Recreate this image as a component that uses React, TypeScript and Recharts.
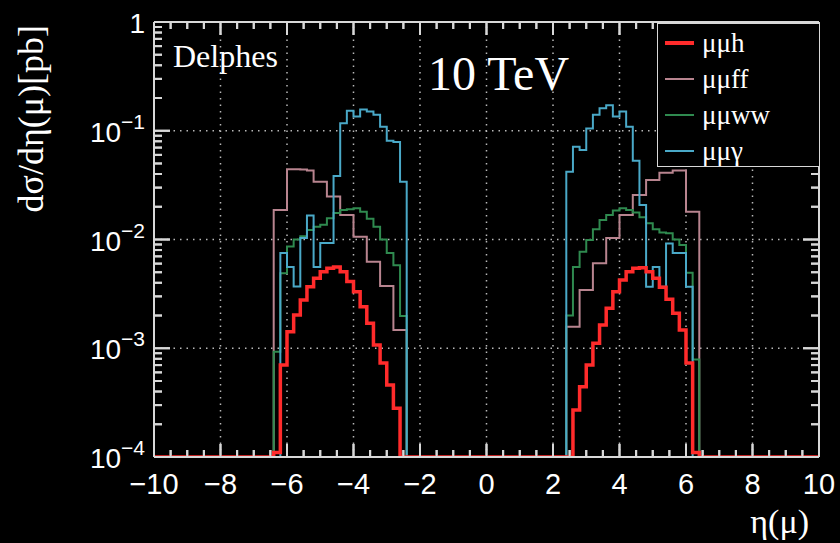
import { LineChart, Line, XAxis, YAxis, ReferenceLine, Legend } from 'recharts'

// histogram binning: 100 bins of 0.2 over eta in [-10, 10]
const etaMin = -10
const etaMax = 10
const binWidth = 0.2
const leftFirstEdge = -6.4
const rightFirstEdge = 2.4
const yFloor = 1e-4
const yCeil = 1

// dsigma/deta per bin, 20 bins on each side (eta -6.4..-2.4 and 2.4..6.4)
const mumuhLeft = [1.1e-4, 7.0e-4, 1.42e-3, 2.02e-3, 2.78e-3, 3.68e-3, 4.4e-3, 5.06e-3, 5.43e-3, 5.6e-3, 5.06e-3, 4.1e-3, 3.3e-3, 2.41e-3, 1.7e-3, 1.07e-3, 7.3e-4, 4.6e-4, 2.8e-4, 0]
const mumuhRight = [0, 2.7e-4, 4.43e-4, 7.0e-4, 1.11e-3, 1.64e-3, 2.33e-3, 3.3e-3, 4.24e-3, 5.06e-3, 5.43e-3, 5.5e-3, 5.06e-3, 4.4e-3, 3.63e-3, 2.82e-3, 2.1e-3, 1.47e-3, 7.3e-4, 1.1e-4]

const mumuffLeft = [0.0187, 0.0187, 0.0442, 0.0442, 0.044, 0.043, 0.034, 0.034, 0.0248, 0.0248, 0.0168, 0.0168, 0.0106, 0.0106, 6.25e-3, 6.25e-3, 3.73e-3, 3.73e-3, 1.47e-3, 1.47e-3]
const mumuffRight = [1.58e-3, 1.58e-3, 3.43e-3, 3.43e-3, 6.04e-3, 6.04e-3, 0.0103, 0.0103, 0.0168, 0.0168, 0.0257, 0.0257, 0.0352, 0.0352, 0.0411, 0.0411, 0.043, 0.043, 0.018, 0.018]

const mumuwwLeft = [9.3e-4, 4.9e-3, 8.6e-3, 0.01, 0.0107, 0.0122, 0.0131, 0.0137, 0.0157, 0.0175, 0.0187, 0.019, 0.0194, 0.018, 0.0155, 0.0131, 0.01, 7.5e-3, 5.8e-3, 1.98e-3]
const mumuwwRight = [2.0e-3, 5.6e-3, 7.7e-3, 9.9e-3, 0.0124, 0.0151, 0.0168, 0.0185, 0.0194, 0.0187, 0.0177, 0.016, 0.0141, 0.0124, 0.0116, 0.0114, 0.01, 8.9e-3, 4.95e-3, 7.9e-4]

const mumugammaLeft = [0, 7.5e-3, 5.6e-3, 3.7e-3, 0.0103, 0.0166, 5.6e-3, 9.3e-3, 9.3e-3, 0.0384, 0.117, 0.153, 0.135, 0.157, 0.15, 0.14, 0.109, 0.081, 0.079, 0.034]
const mumugammaRight = [0.042, 0.0714, 0.0665, 0.105, 0.14, 0.161, 0.172, 0.135, 0.15, 0.109, 0.053, 0.0208, 3.68e-3, 5.6e-3, 3.68e-3, 9.2e-3, 7.5e-3, 7.5e-3, 3.68e-3, 0]

const xMajorTicks = [-10, -8, -6, -4, -2, 0, 2, 4, 6, 8, 10]
const yMajorTicks = [1e-4, 1e-3, 1e-2, 1e-1, 1]

const series = [
  { key: 'mumuh', name: 'μμh', color: '#ff2b2b', width: 3.5, left: mumuhLeft, right: mumuhRight },
  { key: 'mumuff', name: 'μμff', color: '#b8848f', width: 2, left: mumuffLeft, right: mumuffRight },
  { key: 'mumuww', name: 'μμww', color: '#2f8a4f', width: 2, left: mumuwwLeft, right: mumuwwRight },
  { key: 'mumugamma', name: 'μμγ', color: '#4aa9c8', width: 2, left: mumugammaLeft, right: mumugammaRight },
]
// red drawn last so it sits on top
const drawOrder = ['mumuff', 'mumuww', 'mumugamma', 'mumuh']

const frame = '#d8d8d8'
const gridColor = '#b8b8b8'

const W = 840
const H = 543
const margin = { top: 22, right: 21, left: 94, bottom: 46 }
const xAxisHeight = 40
const yAxisWidth = 60
const plotW = W - margin.left - margin.right - yAxisWidth
const plotH = H - margin.top - margin.bottom - xAxisHeight
const plotTop = margin.top
const plotRight = W - margin.right
const pxPerEta = plotW / (etaMax - etaMin)
const pxPerDecade = plotH / Math.log10(yCeil / yFloor)

const xTickLen = (major: boolean) => (major ? 13 : 7)
const yTickLen = (major: boolean) => (major ? 16 : 8)
const upFrom = (v: number, px: number) => v * Math.pow(10, px / pxPerDecade)

const binOf = (vals: number[], firstEdge: number, eta: number) => {
  const j = Math.round((eta - firstEdge) / binWidth)
  return j >= 0 && j < vals.length ? vals[j] : undefined
}

const nBins = Math.round((etaMax - etaMin) / binWidth)
const rows = Array.from({ length: nBins + 1 }, (_, i) => {
  const eta = Math.round((etaMin + i * binWidth) * 10) / 10
  const row: Record<string, number> = { eta }
  series.forEach((s) => {
    const v = binOf(s.left, leftFirstEdge, eta) ?? binOf(s.right, rightFirstEdge, eta) ?? 0
    // empty bins sit on the bottom of the log axis
    row[s.key] = Math.max(v, yFloor)
  })
  return row
})

// ticks every 0.5 in eta, labels on the even ones
const xAllTicks = Array.from({ length: 41 }, (_, i) => etaMin + i * 0.5)
const isMajorX = (v: number) => Math.abs(v % 2) < 1e-9

const yAllTicks: number[] = [1]
for (let e = -4; e < 0; e++) {
  for (let k = 1; k <= 9; k++) yAllTicks.push(Number((k * Math.pow(10, e)).toPrecision(3)))
}
const isMajorY = (v: number) => {
  const l = Math.log10(v)
  return Math.abs(l - Math.round(l)) < 1e-6
}

const BottomTick = (props: any) => {
  const { x, y, payload } = props
  const v = payload.value
  const major = isMajorX(v)
  const len = xTickLen(major)
  return (
    <g>
      <line x1={x} x2={x} y1={y} y2={y - len} stroke={frame} strokeWidth={2} />
      <line x1={x} x2={x} y1={plotTop} y2={plotTop + len} stroke={frame} strokeWidth={2} />
      {major && (
        <text x={x} y={y + 37} textAnchor="middle" fill="#fff" fontSize={29} fontFamily="Liberation Sans, Arial, sans-serif">
          {v < 0 ? `−${Math.abs(v)}` : `${v}`}
        </text>
      )}
    </g>
  )
}

const LeftTick = (props: any) => {
  const { x, y, payload } = props
  const v = payload.value
  const major = isMajorY(v)
  const exp = Math.round(Math.log10(v))
  const len = yTickLen(major)
  return (
    <g>
      <line x1={x} x2={x + len} y1={y} y2={y} stroke={frame} strokeWidth={2} />
      <line x1={plotRight} x2={plotRight - len} y1={y} y2={y} stroke={frame} strokeWidth={2} />
      {major && (
        <text x={x - 9} y={y + 11} textAnchor="end" fill="#fff" fontSize={28} fontFamily="Liberation Sans, Arial, sans-serif">
          {exp === 0 ? '1' : '10'}
          {exp !== 0 && (
            <tspan dy={-13} fontSize={21}>
              {`−${Math.abs(exp)}`}
            </tspan>
          )}
        </text>
      )}
    </g>
  )
}

const renderLegend = () => (
  <div
    style={{
      width: 163,
      height: 144,
      border: `1.5px solid ${frame}`,
      background: '#000',
      boxSizing: 'border-box',
      paddingTop: 1,
    }}
  >
    {series.map((s) => (
      <div key={s.key} style={{ display: 'flex', alignItems: 'center', height: 36 }}>
        <div style={{ width: 29, height: s.key === 'mumuh' ? 4 : 2.5, background: s.color, marginLeft: 7, marginRight: 8 }} />
        <span style={{ color: '#fff', fontFamily: 'Liberation Serif, serif', fontSize: 27, lineHeight: '36px' }}>{s.name}</span>
      </div>
    ))}
  </div>
)

export default function App() {
  return (
    <div style={{ position: 'absolute', left: 0, top: 0, width: W, height: H, background: '#000' }}>
      <div style={{ position: 'relative', width: W, height: H }}>
        <LineChart width={W} height={H} data={rows} margin={margin}>
          <XAxis
            dataKey="eta"
            type="number"
            domain={[etaMin, etaMax]}
            ticks={xAllTicks}
            interval={0}
            height={xAxisHeight}
            tickSize={0}
            tickMargin={0}
            tickLine={false}
            axisLine={{ stroke: frame, strokeWidth: 2 }}
            tick={BottomTick}
          />
          <YAxis
            scale="log"
            type="number"
            domain={[yFloor, yCeil]}
            allowDataOverflow
            ticks={yAllTicks}
            interval={0}
            width={yAxisWidth}
            tickSize={0}
            tickMargin={0}
            tickLine={false}
            axisLine={{ stroke: frame, strokeWidth: 2 }}
            tick={LeftTick}
          />
          {xMajorTicks.slice(1, -1).map((v) => (
            <ReferenceLine key={`gx${v}`} x={v} stroke={gridColor} strokeWidth={1.5} strokeDasharray="1.5 5" />
          ))}
          {yMajorTicks.slice(1, -1).map((v) => (
            <ReferenceLine key={`gy${v}`} y={v} stroke={gridColor} strokeWidth={1.5} strokeDasharray="1.5 5" />
          ))}
          {/* closing the frame on the top and right */}
          <ReferenceLine y={yCeil} stroke={frame} strokeWidth={2} />
          <ReferenceLine x={etaMax} stroke={frame} strokeWidth={2} />
          {/* inward tick marks along the bottom/top and left/right edges */}
          {xAllTicks.slice(1, -1).map((v) => (
            <ReferenceLine
              key={`tb${v}`}
              segment={[{ x: v, y: yFloor }, { x: v, y: upFrom(yFloor, xTickLen(isMajorX(v))) }]}
              stroke={frame}
              strokeWidth={2}
            />
          ))}
          {xAllTicks.slice(1, -1).map((v) => (
            <ReferenceLine
              key={`tt${v}`}
              segment={[{ x: v, y: yCeil }, { x: v, y: upFrom(yCeil, -xTickLen(isMajorX(v))) }]}
              stroke={frame}
              strokeWidth={2}
            />
          ))}
          {yAllTicks
            .filter((v) => v > yFloor && v < yCeil)
            .map((v) => (
              <ReferenceLine
                key={`tl${v}`}
                segment={[{ x: etaMin, y: v }, { x: etaMin + yTickLen(isMajorY(v)) / pxPerEta, y: v }]}
                stroke={frame}
                strokeWidth={2}
              />
            ))}
          {yAllTicks
            .filter((v) => v > yFloor && v < yCeil)
            .map((v) => (
              <ReferenceLine
                key={`tr${v}`}
                segment={[{ x: etaMax, y: v }, { x: etaMax - yTickLen(isMajorY(v)) / pxPerEta, y: v }]}
                stroke={frame}
                strokeWidth={2}
              />
            ))}
          {drawOrder.map((k) => {
            const s = series.find((d) => d.key === k)!
            return (
              <Line
                key={k}
                dataKey={k}
                name={s.name}
                type="stepAfter"
                stroke={s.color}
                strokeWidth={s.width}
                dot={false}
                activeDot={false}
                isAnimationActive={false}
              />
            )
          })}
          <Legend
            layout="vertical"
            align="center"
            verticalAlign="middle"
            content={renderLegend}
            wrapperStyle={{ position: 'absolute', left: 657, top: 23, width: 163, height: 144 }}
          />
        </LineChart>
        <svg width={W} height={H} style={{ position: 'absolute', left: 0, top: 0, pointerEvents: 'none' }}>
          <text x={173} y={67} fill="#fff" fontSize={32} fontFamily="Liberation Serif, serif">
            Delphes
          </text>
          <text x={428} y={90} fill="#fff" fontSize={48} fontFamily="Liberation Serif, serif">
            10 TeV
          </text>
          <text
            x={43}
            y={25}
            transform="rotate(-90 43 25)"
            textAnchor="end"
            fill="#fff"
            fontSize={36}
            fontFamily="Liberation Serif, serif"
          >
            dσ/dη(μ)[pb]
          </text>
          <text x={809} y={533} textAnchor="end" fill="#fff" fontSize={34} fontFamily="Liberation Serif, serif">
            η(μ)
          </text>
        </svg>
      </div>
    </div>
  )
}
